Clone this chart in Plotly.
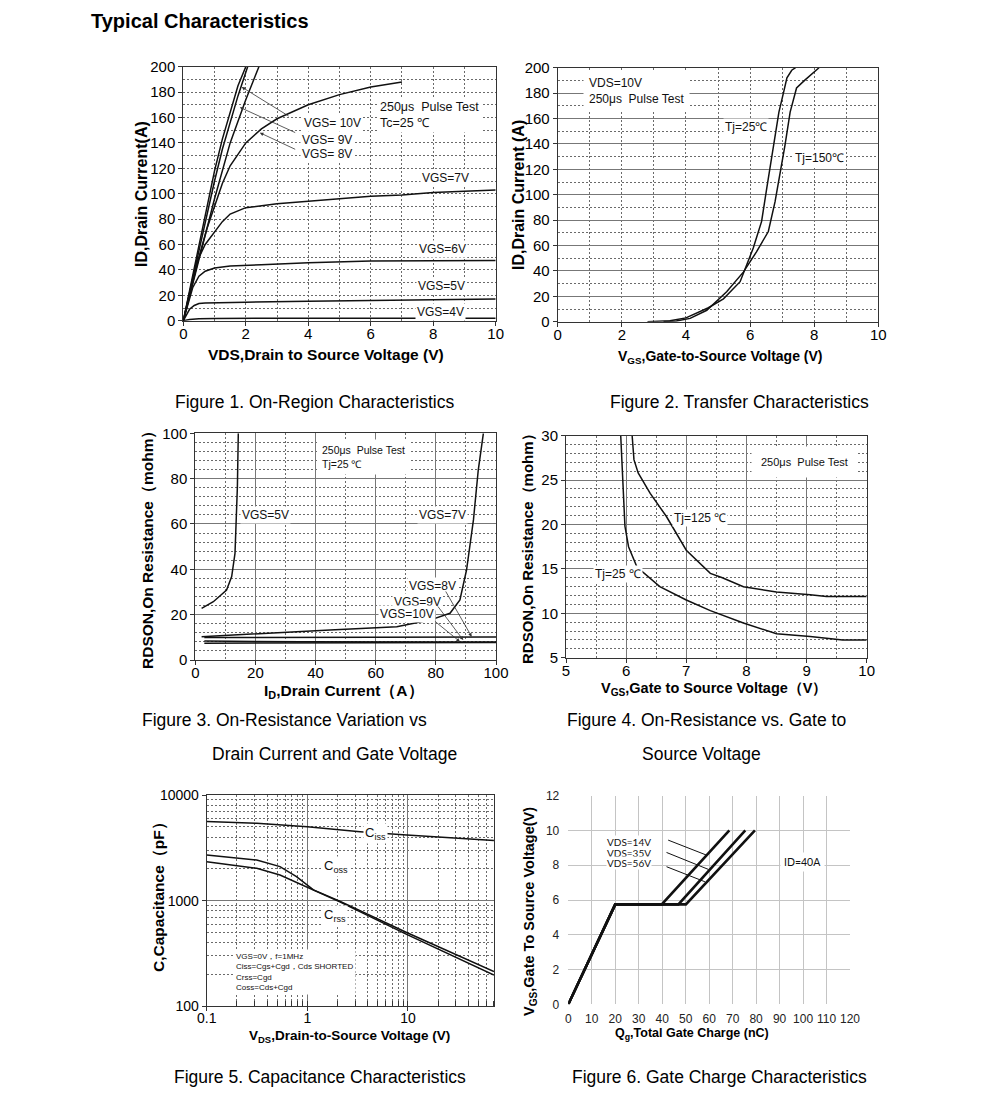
import plotly.graph_objects as go

# ---------------- DATA ----------------
# Figure 1: On-Region Characteristics (VDS [V] -> ID [A])
f1_vds_10v = [0, 0.25, 0.5, 0.75, 1.0, 1.25, 1.5, 1.75, 2.0]
f1_id_10v = [0, 30, 60, 90, 118, 143, 165, 185, 200]
f1_vds_9v = [0, 0.25, 0.5, 0.75, 1.0, 1.25, 1.5, 1.75, 2.06]
f1_id_9v = [0, 28, 56, 84, 110, 135, 157, 177, 200]
f1_vds_steep = [0, 0.5, 1.0, 1.5, 2.0, 2.42]
f1_id_steep = [0, 48, 96, 140, 174, 200]
f1_vds_8v = [0, 0.25, 0.5, 0.75, 1.0, 1.25, 1.5, 2.0, 2.5, 3.0, 4.0, 5.0, 6.0, 7.0]
f1_id_8v = [0, 25, 50, 72, 90, 108, 122, 140, 151, 159, 170, 178, 184, 188]
f1_vds_7v = [0, 0.2, 0.43, 0.7, 1.0, 1.25, 1.5, 2, 3, 4, 5, 6, 7, 8, 9, 10]
f1_id_7v = [0, 22, 46, 60, 70, 78, 84, 89, 92, 94, 96, 98, 99, 101, 102, 103]
f1_vds_6v = [0, 0.15, 0.3, 0.5, 0.7, 1.0, 1.5, 2.5, 4, 6, 8, 10]
f1_id_6v = [0, 14, 26, 35, 39, 41.5, 43, 44, 45.7, 47, 47.5, 47.5]
f1_vds_5v = [0, 0.1, 0.2, 0.35, 0.5, 0.7, 1, 2, 4, 6, 8, 10]
f1_id_5v = [0, 5, 9, 12, 13.5, 14, 14.2, 14.6, 15.3, 16, 16.5, 17]
f1_vds_4v = [0, 0.2, 0.5, 1, 3, 5, 7, 10]
f1_id_4v = [0, 1, 1.5, 1.8, 1.9, 2, 2, 2]

# Figure 2: Transfer Characteristics (VGS [V] -> ID [A])
f2_vgs_25 = [2.8, 3.5, 4.0, 4.33, 4.7, 5.17, 5.69, 6.1, 6.36, 6.52, 6.73, 6.9, 7.04, 7.15, 7.3, 7.42]
f2_id_25 = [0, 0.8, 3, 6.5, 11, 18, 31.5, 58, 79, 105, 139, 165, 180, 192, 198, 200]
f2_vgs_150 = [3.3, 3.7, 4.13, 4.65, 5.27, 5.79, 6.2, 6.57, 6.78, 6.93, 7.09, 7.25, 7.45, 7.7, 7.95, 8.15]
f2_id_150 = [0, 0.5, 2.6, 9, 23.6, 39, 55, 71, 94.5, 115, 139, 165, 184, 190, 196, 200]

# Figure 3: RDSON vs ID (A -> mohm)
f3_id_5v = [2.1, 6, 10.4, 12.1, 13.2, 13.7, 14, 14.3]
f3_r_5v = [22.8, 25.7, 30.9, 36.8, 47, 61.8, 76.5, 100]
f3_id_7v = [2.1, 22.6, 44.8, 67, 78, 84.7, 88, 90.2, 92.5, 94.1, 95.8]
f3_r_7v = [10.3, 11.8, 13.2, 14.7, 17.6, 20.6, 26.5, 39.7, 61.8, 83.8, 100]
f3_id_8v = [3, 40, 80, 100]
f3_r_8v = [9.9, 9.9, 10.0, 10.1]
f3_id_9v = [3, 35, 90, 100]
f3_r_9v = [8.4, 8.0, 7.9, 7.9]
f3_id_10v = [3, 35, 90, 100]
f3_r_10v = [7.4, 7.6, 7.7, 7.7]

# Figure 4: RDSON vs VGS
f4_vgs_25 = [5.91, 5.95, 5.98, 6.04, 6.18, 6.56, 7.0, 7.4, 7.95, 8.5, 9.06, 9.6, 10]
f4_r_25 = [30, 24.3, 19.8, 17.5, 15.2, 13, 11.5, 10.3, 8.9, 7.7, 7.4, 7.0, 7.0]
f4_vgs_125 = [6.1, 6.13, 6.2, 6.4, 6.67, 7.0, 7.4, 7.6, 7.95, 8.5, 9.06, 9.33, 10]
f4_r_125 = [30, 27.3, 25.8, 23.5, 20.9, 17.1, 14.5, 14, 13.0, 12.4, 12.1, 11.9, 11.9]

# Figure 5: Capacitance (VDS [V] -> pF)
f5_v_ciss = [0.1, 0.314, 1.0, 3.34, 9.7, 71.5]
f5_ciss = [5600, 5400, 5010, 4500, 4180, 3700]
f5_v_coss = [0.1, 0.314, 0.535, 0.78, 1.15, 2.1, 9.7, 71.5]
f5_coss = [2706, 2427, 2100, 1687, 1263, 990, 500, 213]
f5_v_crss = [0.1, 0.314, 0.535, 0.99, 2.1, 9.7, 71.5]
f5_crss = [2338, 2024, 1751, 1355, 975, 480, 198]

# Figure 6: Gate charge (Qg [nC] -> VGS [V])
f6_q_14 = [0, 20, 39.8, 68.6]
f6_q_35 = [0, 20, 46.9, 75.4]
f6_q_56 = [0, 20, 50.1, 79.5]
f6_vgs = [0, 5.75, 5.75, 10]

# ---------------- LAYOUT HELPERS ----------------
W, H = 991, 1099
OFF = 8  # page body margin of the browser
FONT = "Liberation Sans, Arial, sans-serif"
LINE = "#111111"


def px(x):
    return (x - OFF) / W


def py(y):
    return 1 - (y - OFF) / H


# plot areas in pixels (screen): (left, right, top, bottom)
areas = {
    1: (183.3, 495.7, 66.7, 320.7),
    2: (557.7, 878.3, 67.7, 321.7),
    3: (195.3, 496.0, 433.3, 660.0),
    4: (566.0, 866.7, 435.7, 657.7),
    5: (206.7, 494.0, 795.0, 1006.3),
    6: (568.3, 850.0, 795.7, 1004.3),
}

fig = go.Figure()


def add_line(i, x, y, width=1.5):
    fig.add_trace(go.Scatter(
        x=x, y=y, mode="lines", line=dict(color=LINE, width=width),
        xaxis="x" if i == 1 else f"x{i}", yaxis="y" if i == 1 else f"y{i}",
        showlegend=False, hoverinfo="skip"))


for xs, ys in [(f1_vds_10v, f1_id_10v), (f1_vds_9v, f1_id_9v), (f1_vds_steep, f1_id_steep),
               (f1_vds_8v, f1_id_8v), (f1_vds_7v, f1_id_7v), (f1_vds_6v, f1_id_6v),
               (f1_vds_5v, f1_id_5v), (f1_vds_4v, f1_id_4v)]:
    add_line(1, xs, ys)
for xs, ys in [(f2_vgs_25, f2_id_25), (f2_vgs_150, f2_id_150)]:
    add_line(2, xs, ys)
for xs, ys in [(f3_id_5v, f3_r_5v), (f3_id_7v, f3_r_7v), (f3_id_8v, f3_r_8v),
               (f3_id_9v, f3_r_9v), (f3_id_10v, f3_r_10v)]:
    add_line(3, xs, ys)
for xs, ys in [(f4_vgs_25, f4_r_25), (f4_vgs_125, f4_r_125)]:
    add_line(4, xs, ys)
for xs, ys in [(f5_v_ciss, f5_ciss), (f5_v_coss, f5_coss), (f5_v_crss, f5_crss)]:
    add_line(5, xs, ys)
for xs in [f6_q_14, f6_q_35, f6_q_56]:
    add_line(6, xs, f6_vgs, width=2.6)

DOT = "2px,2px"
DOTC = "#6a6a6a"
SOLIDC = "#777777"


def base_axis(i, kind, tsize=15, **kw):
    l, r, t, b = areas[i]
    d = dict(showline=True, mirror=True, linecolor="#333", linewidth=1,
             ticks="outside", ticklen=4, tickcolor="#333",
             tickfont=dict(family=FONT, size=tsize, color="black"),
             zeroline=False, showgrid=True, fixedrange=True, automargin=False)
    if kind == "x":
        d["domain"] = [px(l), px(r)]
        d["anchor"] = "y" if i == 1 else f"y{i}"
        d["ticklabelstandoff"] = -5
    else:
        d["domain"] = [py(b), py(t)]
        d["anchor"] = "x" if i == 1 else f"x{i}"
    d.update(kw)
    return d


def minor(dt, dash=DOT, color=DOTC):
    return dict(dtick=dt, showgrid=True, griddash=dash, gridcolor=color, gridwidth=1)


axes = {}
# Fig 1: all dotted grid
axes["xaxis"] = base_axis(1, "x", range=[0, 10], dtick=2, griddash=DOT, gridcolor=DOTC, minor=minor(1))
axes["yaxis"] = base_axis(1, "y", range=[0, 200], dtick=20, griddash=DOT, gridcolor=DOTC, minor=minor(10))
# Fig 2
axes["xaxis2"] = base_axis(2, "x", range=[0, 10], dtick=2, griddash=DOT, gridcolor=DOTC, minor=minor(1))
axes["yaxis2"] = base_axis(2, "y", range=[0, 200], dtick=20, gridcolor=SOLIDC, minor=minor(10))
# Fig 3
axes["xaxis3"] = base_axis(3, "x", range=[0, 100], dtick=20, gridcolor=SOLIDC, minor=minor(10))
axes["yaxis3"] = base_axis(3, "y", range=[0, 100], dtick=20, gridcolor=SOLIDC, minor=minor(4))
# Fig 4
axes["xaxis4"] = base_axis(4, "x", range=[5, 10], dtick=1, gridcolor=SOLIDC, minor=minor(0.5))
axes["yaxis4"] = base_axis(4, "y", range=[5, 30], dtick=5, gridcolor=SOLIDC, minor=minor(1))
# Fig 5 log-log
axes["xaxis5"] = base_axis(5, "x", tsize=14, type="log", range=[-1, 1.855], dtick=1,
                           exponentformat="none", gridcolor=SOLIDC,
                           minor=dict(dtick="D1", showgrid=True, griddash=DOT, gridcolor=DOTC,
                                      ticks="inside", ticklen=5, tickcolor="#333"))
axes["yaxis5"] = base_axis(5, "y", tsize=14, type="log", range=[2, 4], dtick=1,
                           exponentformat="none", tickformat="d", gridcolor=SOLIDC,
                           minor=dict(dtick="D1", showgrid=True, griddash=DOT, gridcolor=DOTC))
# Fig 6 (Excel style)
l6, r6, t6, b6 = areas[6]
axes["xaxis6"] = dict(domain=[px(l6), px(r6)], anchor="y6", range=[0, 120], dtick=10,
                      showline=False, zeroline=False, showgrid=True, gridcolor="#c4c4c4",
                      gridwidth=1, ticks="", ticklabelstandoff=6,
                      tickfont=dict(family=FONT, size=12, color="#222"),
                      fixedrange=True, automargin=False)
axes["yaxis6"] = dict(domain=[py(b6), py(t6)], anchor="x6", range=[0, 12], dtick=2,
                      showline=False, zeroline=False, showgrid=True, gridcolor="#c4c4c4",
                      gridwidth=1, ticks="", ticklabelstandoff=8,
                      tickfont=dict(family=FONT, size=12, color="#222"),
                      fixedrange=True, automargin=False)

ann = []


def txt(i, x, y, text, size=12, xanchor="left", bg="white", pad=1, family=FONT, align="left"):
    ann.append(dict(x=x, y=y, xref="x" if i == 1 else f"x{i}", yref="y" if i == 1 else f"y{i}",
                    text=text, showarrow=False, xanchor=xanchor, yanchor="middle", align=align,
                    font=dict(family=family, size=size, color="#111"),
                    bgcolor=bg, borderpad=pad))


def arrow(i, tip, tail, head=2, color="#333", width=0.8):
    ann.append(dict(x=tip[0], y=tip[1], ax=tail[0], ay=tail[1],
                    xref="x" if i == 1 else f"x{i}", yref="y" if i == 1 else f"y{i}",
                    axref="x" if i == 1 else f"x{i}", ayref="y" if i == 1 else f"y{i}",
                    text="", showarrow=True, arrowhead=head, arrowsize=0.9,
                    arrowwidth=width, arrowcolor=color))


def paper(x, y, text, size=14, bold=False, angle=0, xanchor="center", family=FONT, color="black"):
    t = f"<b>{text}</b>" if bold else text
    ann.append(dict(x=px(x), y=py(y), xref="paper", yref="paper", text=t, showarrow=False,
                    xanchor=xanchor, yanchor="middle", textangle=angle,
                    font=dict(family=family, size=size, color=color)))


# Fig 1 labels
txt(1, 6.2, 162, "250μs  Pulse Test<br>Tc=25 ℃", size=12.5, pad=2)
txt(1, 3.8, 155.7, "VGS= 10V")
txt(1, 3.74, 142.3, "VGS= 9V")
txt(1, 3.74, 131.3, "VGS= 8V")
txt(1, 8.39, 112.4, "VGS=7V", xanchor="center")
txt(1, 8.3, 56.5, "VGS=6V", xanchor="center")
txt(1, 8.27, 27.3, "VGS=5V", xanchor="center")
txt(1, 8.23, 6.9, "VGS=4V", xanchor="center")
arrow(1, (1.87, 184), (3.42, 160.4))
arrow(1, (1.81, 168), (3.63, 147.6))
arrow(1, (2.45, 148), (3.63, 134.4))

# Fig 2 labels
txt(2, 0.79, 182, "VDS=10V<br>250μs  Pulse Test", size=12, pad=5)
txt(2, 5.16, 153.3, "Tj=25℃")
txt(2, 7.34, 128.9, "Tj=150℃")

# Fig 3 labels
txt(3, 40.5, 89.5, "250μs  Pulse Test<br>Tj=25 ℃", size=10.5, pad=4)
txt(3, 14.9, 64, "VGS=5V")
txt(3, 73.7, 64, "VGS=7V")
txt(3, 70.4, 32.6, "VGS=8V")
txt(3, 65.4, 25.6, "VGS=9V")
txt(3, 60.8, 20.3, "VGS=10V")
arrow(3, (91.9, 10.3), (83.0, 30.9))
arrow(3, (89.1, 8.8), (80.3, 24.3))
arrow(3, (88.0, 8.1), (79.2, 17.6))

# Fig 4 labels
txt(4, 8.97, 27.0, "250μs  Pulse Test", size=11, xanchor="center", pad=9)
txt(4, 6.76, 20.7, "Tj=125 ℃")
txt(4, 5.45, 14.4, "Tj=25 ℃")

# Fig 5 labels (log axes: positions in log10 units)
txt(5, 0.553, 3.640, "C<sub>iss</sub>", size=13)
txt(5, 0.145, 3.328, "C<sub>oss</sub>", size=13)
txt(5, 0.145, 2.864, "C<sub>rss</sub>", size=13)
txt(5, -0.739, 2.32, "VGS=0V，f=1MHz<br>Ciss=Cgs+Cgd，Cds SHORTED<br>Crss=Cgd<br>Coss=Cds+Cgd",
    size=8, pad=2)

# Fig 6 labels
NARROW = "Liberation Sans Narrow, Lato, sans-serif"
txt(6, 26, 9.34, "VDS=14V", size=10, xanchor="center", family=NARROW, pad=0)
txt(6, 26, 8.72, "VDS=35V", size=10, xanchor="center", family=NARROW, pad=0)
txt(6, 26, 8.13, "VDS=56V", size=10, xanchor="center", family=NARROW, pad=0)
txt(6, 90.2, 8.19, "ID=40A", size=10.5, family=NARROW, pad=3)
arrow(6, (58.9, 8.58), (41.9, 9.48), head=0, color="#111", width=1)
arrow(6, (59.7, 7.76), (41.2, 8.77), head=0, color="#111", width=1)
arrow(6, (58.2, 7.05), (41.2, 7.95), head=0, color="#111", width=1)

# Axis titles
paper(141, 194, "ID,Drain Current(A)", size=16, bold=True, angle=-90)
paper(326, 354, "VDS,Drain to Source Voltage (V)", size=15.5, bold=True)
paper(518, 195, "ID,Drain Current (A)", size=16, bold=True, angle=-90)
paper(720, 357, "V<sub>GS</sub>,Gate-to-Source Voltage (V)", size=14, bold=True)
paper(148, 546, "RDSON,On Resistance（mohm）", size=15.5, bold=True, angle=-90)
paper(344, 691, "I<sub>D</sub>,Drain Current（A）", size=15.5, bold=True)
paper(527, 545, "RDSON,On Resistance（mohm）", size=15, bold=True, angle=-90)
paper(714, 689, "V<sub>GS</sub>,Gate to Source Voltage（V）", size=14.5, bold=True)
paper(159, 893, "C,Capacitance（pF）", size=15.5, bold=True, angle=-90)
paper(349, 1036, "V<sub>DS</sub>,Drain-to-Source Voltage (V)", size=13.5, bold=True)
paper(530, 912, "V<sub>GS</sub>,Gate To Source Voltage(V)", size=14.5, bold=True, angle=-90)
paper(692, 1034, "Q<sub>g</sub>,Total Gate Charge (nC)", size=12.5, bold=True)

# Title and captions
paper(89, 21, "Typical Characteristics", size=20, bold=True, xanchor="left")
paper(314, 402, "Figure 1. On-Region Characteristics", size=17.5)
paper(739, 402, "Figure 2. Transfer Characteristics", size=17.5)
paper(140, 720, "Figure 3. On-Resistance Variation vs", size=17.5, xanchor="left")
paper(210, 754, "Drain Current and Gate Voltage", size=17.5, xanchor="left")
paper(565, 720, "Figure 4. On-Resistance vs. Gate to", size=17.5, xanchor="left")
paper(640, 754, "Source Voltage", size=17.5, xanchor="left")
paper(320, 1077, "Figure 5. Capacitance Characteristics", size=17.5)
paper(719, 1077, "Figure 6. Gate Charge Characteristics", size=17.5)

fig.update_layout(
    width=W, height=H, margin=dict(l=0, r=0, t=0, b=0, pad=0, autoexpand=False),
    paper_bgcolor="white", plot_bgcolor="white",
    showlegend=False, annotations=ann, font=dict(family=FONT), **axes)

fig.write_html("out.html")
